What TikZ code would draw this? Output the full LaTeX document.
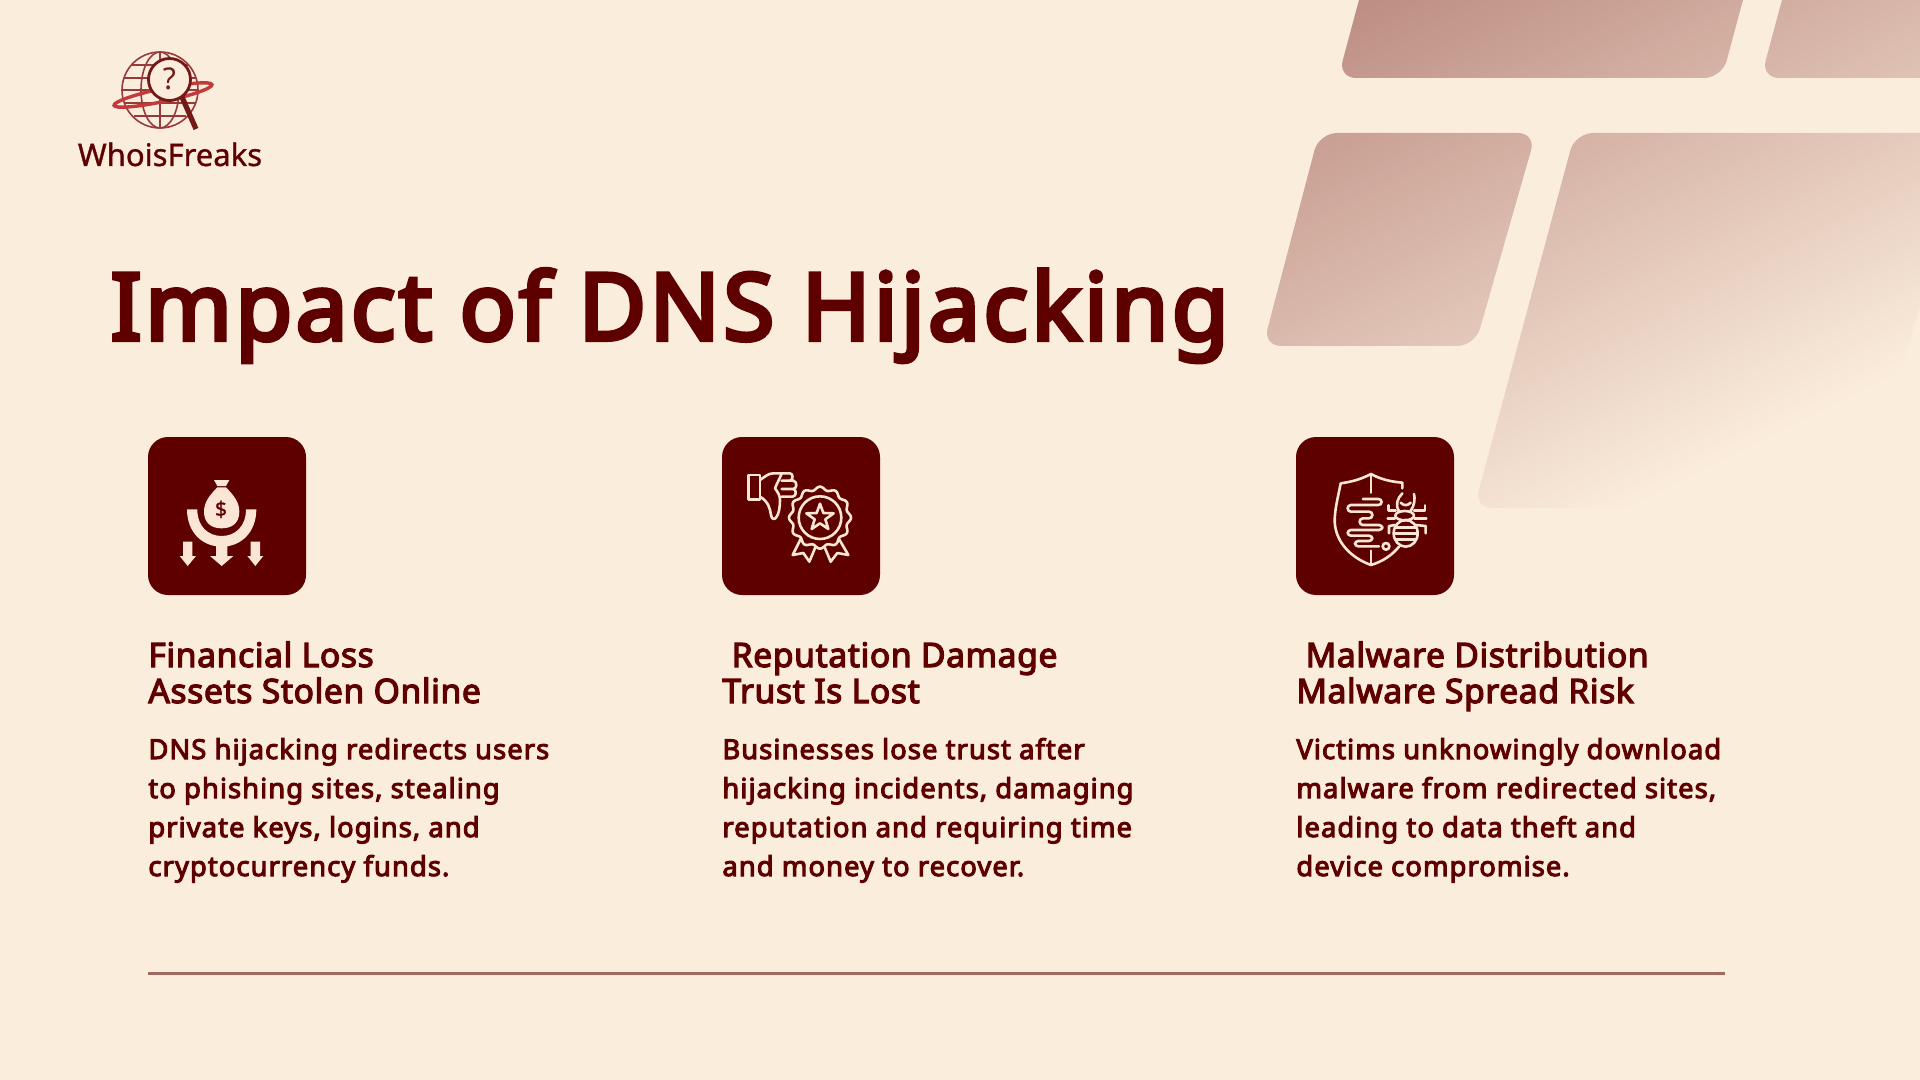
\documentclass[tikz,border=0pt]{standalone}
\usepackage{fontspec}
\setmainfont{Noto Sans}
\newfontfamily\titlefam{Noto Sans}[FakeBold=4.5,LetterSpace=3.4]
\newfontfamily\headfam{Noto Sans}[FakeBold=3.6,LetterSpace=1.9]
\newfontfamily\bodyfam{Noto Sans}[FakeBold=3.8,LetterSpace=3.8]
\newfontfamily\logofam{Noto Sans}[FakeBold=1.0]
\usetikzlibrary{calc}
\definecolor{bgc}{HTML}{FBEDDC}
\definecolor{maro}{HTML}{5F0000}
\definecolor{icn}{HTML}{FBE6D6}
\definecolor{bandA}{HTML}{BC8C81}
\definecolor{bandB}{HTML}{FBEDDC}
\definecolor{rulec}{HTML}{A2695F}
\definecolor{globec}{HTML}{983A3A}
\definecolor{orbitc}{HTML}{C23A3C}
\definecolor{lensc}{HTML}{741818}
\tikzset{
  iconbox/.style={fill=maro,rounded corners=10pt,draw=none},
  iconline/.style={draw=icn,line width=1.3pt,line cap=round,line join=round},
  iconfill/.style={fill=icn,draw=none},
  titletext/.style={anchor=base west,inner sep=0,text=maro,font=\titlefam\fontsize{46.5}{50}\selectfont},
  headtext/.style={anchor=base west,inner sep=0,text=maro,align=left,font=\headfam\fontsize{16.8}{18}\selectfont},
  bodytext/.style={anchor=base west,inner sep=0,text=maro,align=left,font=\bodyfam\fontsize{13.7}{19.5}\selectfont},
  globeline/.style={draw=globec,line width=.8pt},
}
\begin{document}
\begin{tikzpicture}[x=0.5pt,y=-0.5pt]
\useasboundingbox (0,0) rectangle (1920,1080);
\fill[bgc] (0,0) rectangle (1920,1080);
% background bands
\begin{scope}
\clip (0,0) rectangle (1920,1080);
\clip[rounded corners=9pt]
  (1367,-30)--(1751,-30)--(1722,78)--(1338,78)--cycle
  (1790,-30)--(2040,-30)--(2040,78)--(1761,78)--cycle
  (1319,133)--(1536,133)--(1475,346)--(1263,346)--cycle
  (1575,133)--(1975,133)--(1857,508)--(1474,508)--cycle;
\begin{scope}[transform canvas={shift={(1564,214)},rotate=26.7}]
\shade[top color=bandA,bottom color=bandB] (-420,-295) rectangle (420,295);
\end{scope}
\end{scope}
% logo
\begin{scope}
\draw[globeline] (160,90) circle[radius=38];
\draw[globeline] (160,90) ellipse[x radius=19,y radius=38];
\draw[globeline] (160,52)--(160,128);
\foreach \yy/\hw in {65/29,78/36,90/38,103/35,116/26}{\draw[globeline] (160-\hw,\yy)--(160+\hw,\yy);}
\draw[orbitc,line width=1.7pt] (163,95) ellipse[x radius=50,y radius=6.5,rotate=12];
\fill[bgc] (169.5,79.5) circle[radius=21];
\draw[lensc,line width=1.4pt] (169.5,79.5) circle[radius=21];
\draw[lensc,line width=2.6pt] (182,97)--(196,129);
\node[inner sep=0,text=lensc,font=\fontsize{15}{15}\selectfont] (logoq) at (169.5,79) {?};
\node[anchor=base,inner sep=0,text=maro,font=\logofam\fontsize{15.5}{18}\selectfont] (logotext) at (170,166) {WhoisFreaks};
\end{scope}
% title
\node[titletext] (title) at (110,340) {Impact of DNS Hijacking};
% icon boxes
\path[iconbox] (148,437) rectangle (306,595);
\path[iconbox] (722,437) rectangle (880,595);
\path[iconbox] (1296,437) rectangle (1454,595);
% icon 1
\begin{scope}[shift={(140,430)},scale=1/3]
\path[iconfill] (222,150)--(268,150)--(258,168)--(232,168)--cycle;
\path[iconfill] (232,172)--(258,172) .. controls (280,195) and (298,215) .. (298,245)
  .. controls (298,280) and (275,295) .. (245,295) .. controls (215,295) and (192,280) .. (192,245)
  .. controls (192,215) and (210,195) .. (232,172)--cycle;
\path[iconfill] (141,238)--(172,238) .. controls (172,290) and (205,318) .. (245,318)
  .. controls (285,318) and (318,290) .. (318,238)--(349,238)
  .. controls (349,305) and (305,350) .. (245,350) .. controls (185,350) and (141,305) .. (141,238)--cycle;
\path[iconfill] (228,345)--(262,345)--(262,378)--(280,378)--(245,408)--(210,378)--(228,378)--cycle;
\path[iconfill] (129,335)--(157,335)--(157,378)--(168,378)--(143,408)--(119,378)--(129,378)--cycle;
\path[iconfill] (332,335)--(360,335)--(360,378)--(370,378)--(346,408)--(322,378)--(332,378)--cycle;
\node[inner sep=0,text=maro,font=\logofam\fontsize{10.5}{12}\selectfont] (dollar) at (243,238) {\$};
\end{scope}
% icon 2
\begin{scope}[shift={(740,465)},scale=1/3]
\draw[iconline] (25,30) rectangle (60,103);
\draw[iconline] (60,45) .. controls (75,35) and (85,25) .. (100,25) -- (150,25)
  .. controls (160,25) and (160,45) .. (150,47) -- (125,47)
  (150,47) -- (160,47) .. controls (172,50) and (172,70) .. (160,72) -- (125,72)
  (160,72) .. controls (170,75) and (170,93) .. (158,95) -- (125,95)
  (125,25) .. controls (120,40) and (108,60) .. (105,70) .. controls (112,80) and (120,90) .. (120,105)
  .. controls (120,125) and (117,145) .. (110,155) .. controls (105,165) and (95,165) .. (93,150)
  .. controls (90,130) and (85,110) .. (60,95);
\draw[iconline] plot[domain=0:360,samples=145,smooth] ({240+(88+5*cos(12*\x))*cos(\x)},{158+(88+5*cos(12*\x))*sin(\x)});
\draw[iconline] (240,158) circle[radius=64];
\draw[iconline] (240,116)--(250,144)--(281,145)--(256,163)--(265,192)--(240,175)--(215,192)--(224,163)--(199,145)--(230,144)--cycle;
\draw[iconline] (182,222)--(158,270)--(190,264)--(208,290)--(226,247);
\draw[iconline] (297,222)--(325,270)--(292,264)--(272,290)--(254,247);
\end{scope}
% icon 3
\begin{scope}[shift={(1289,430)},scale=1/3]
\draw[iconline] (340,175)--(340,158) .. controls (305,155) and (275,148) .. (246,132)
  .. controls (215,148) and (190,155) .. (155,160) .. controls (145,210) and (137,240) .. (137,275)
  .. controls (140,340) and (190,385) .. (246,405) .. controls (280,395) and (310,375) .. (330,350);
\draw[iconline] (246,132)--(246,188) (246,362)--(246,405);
\draw[iconline,rounded corners=1.6pt] (222,207)--(278,207)--(278,225)--(176,225)--(176,245)--(250,245)--(250,265)--(212,265)--(212,285)--(280,285)--(280,300)--(176,300)--(176,317)--(250,317)--(250,333)--(198,333)--(198,349)--(270,349);
\draw[iconline] (291,349) circle[radius=10];
\draw[iconline] (350,310) ellipse[x radius=36,y radius=40];
\draw[iconline] (318,292)--(382,292) (315,310)--(385,310) (320,328)--(380,328);
\draw[iconline] (347,257) ellipse[x radius=28,y radius=14];
\draw[iconline] (330,243) .. controls (318,225) and (325,205) .. (340,190) (364,243) .. controls (378,225) and (378,205) .. (375,192);
\draw[iconline] (335,218) .. controls (345,228) and (355,228) .. (365,218);
\draw[iconline] (320,242)--(298,242)--(298,226) (375,242)--(408,242)--(408,226);
\draw[iconline] (318,265)--(296,265) (376,265)--(412,265);
\draw[iconline] (318,285)--(300,288)--(300,310) (380,285)--(410,288)--(410,310);
\end{scope}
% texts
\node[headtext] (h1) at (148,703) {Financial Loss\\Assets Stolen Online};
\node[headtext] (h2) at (722,703) {\ Reputation Damage\\Trust Is Lost};
\node[headtext] (h3) at (1296,703) {\ Malware Distribution\\Malware Spread Risk};
\node[bodytext] (b1) at (148,876) {DNS hijacking redirects users\\to phishing sites, stealing\\private keys, logins, and\\cryptocurrency funds.};
\node[bodytext] (b2) at (722,876) {Businesses lose trust after\\hijacking incidents, damaging\\reputation and requiring time\\and money to recover.};
\node[bodytext] (b3) at (1296,876) {Victims unknowingly download\\malware from redirected sites,\\leading to data theft and\\device compromise.};
% rule
\coordinate (ruleL) at (148,973.5);
\coordinate (ruleR) at (1725,973.5);
\draw[rulec,line width=1.2pt] (ruleL)--(ruleR);
\end{tikzpicture}
\end{document}
